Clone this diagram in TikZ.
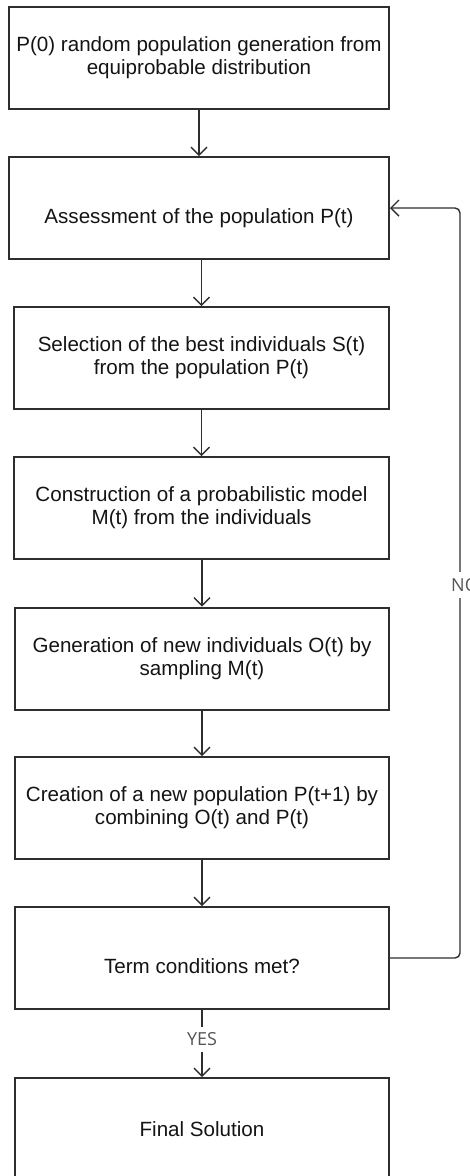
\documentclass[tikz,border=0pt]{standalone}
\usepackage{fontspec}
\setmainfont{Liberation Sans}
\newfontfamily\tagfont{Open Sans}
\usetikzlibrary{arrows.meta}
\definecolor{edge}{HTML}{2E2E2E}
\definecolor{ink}{HTML}{141414}
\definecolor{tagink}{HTML}{555555}

\begin{document}
\begin{tikzpicture}[x=1pt,y=-1pt,
  stepbox/.style={draw=edge, line width=2pt, minimum width=375pt,
    minimum height=102pt, inner sep=0pt},
  widebox/.style={stepbox, minimum width=380pt},
  steptext/.style={text=ink, align=center, inner sep=0pt,
    font=\fontsize{20.6}{23}\selectfont},
  flow/.style={draw=edge, line width=1.4pt,
    -{Straight Barb[length=8pt,width=16pt,line width=1.4pt]}},
  tag/.style={text=tagink, fill=white, inner xsep=1pt, inner ysep=6pt,
    font=\tagfont\fontsize{18}{20}\selectfont}]

\useasboundingbox (0,0) rectangle (469,1176);

% process boxes
\node[widebox] (b1) at (199,58) {};
\node[widebox] (b2) at (199,208) {};
\node[stepbox] (b3) at (201.5,358) {};
\node[stepbox] (b4) at (201.5,508) {};
\node[stepbox, minimum width=374pt] (b5) at (202,658.5) {};
\node[stepbox, minimum width=374pt] (b6) at (202,808) {};
\node[stepbox, minimum width=374pt] (b7) at (202,958) {};
\node[stepbox, minimum width=374pt] (b8) at (202,1129) {};

% box texts
\node[steptext] (t1) at (b1.center) {P(0) random population generation from\\equiprobable distribution};
\node[steptext] (t2) at ([yshift=-10pt]b2.center) {Assessment of the population P(t)};
\node[steptext] (t3) at (b3.center) {Selection of the best individuals S(t)\\from the population P(t)};
\node[steptext] (t4) at (b4.center) {Construction of a probabilistic model\\M(t) from the individuals};
\node[steptext] (t5) at (b5.center) {Generation of new individuals O(t) by\\sampling M(t)};
\node[steptext] (t6) at (b6.center) {Creation of a new population P(t+1) by\\combining O(t) and P(t)};
\node[steptext] (t7) at ([yshift=-8pt]b7.center) {Term conditions met?};
\node[steptext] (t8) at (b8.center) {Final Solution};

% main flow
\draw[flow] (b1.south) -- (b2.north);
\draw[flow] (b3.north |- b2.south) -- (b3.north);
\draw[flow] (b3.south) -- (b4.north);
\draw[flow] (b5.north |- b4.south) -- (b5.north);
\draw[flow] (b5.south) -- (b6.north);
\draw[flow] (b6.south) -- (b7.north);
\draw[flow] (b7.south) -- node[tag, pos=0.44] (yes) {YES} (b8.north);

% loop back when the conditions are not met
\coordinate (loopbot) at (460,958);
\coordinate (looptop) at (460,208);
\draw[flow, rounded corners=5pt] (b7.east) -- (loopbot) -- (looptop) -- (b2.east);
\node[tag, anchor=west, inner xsep=0pt] (no) at (451,585) {NO};

\end{tikzpicture}
\end{document}
